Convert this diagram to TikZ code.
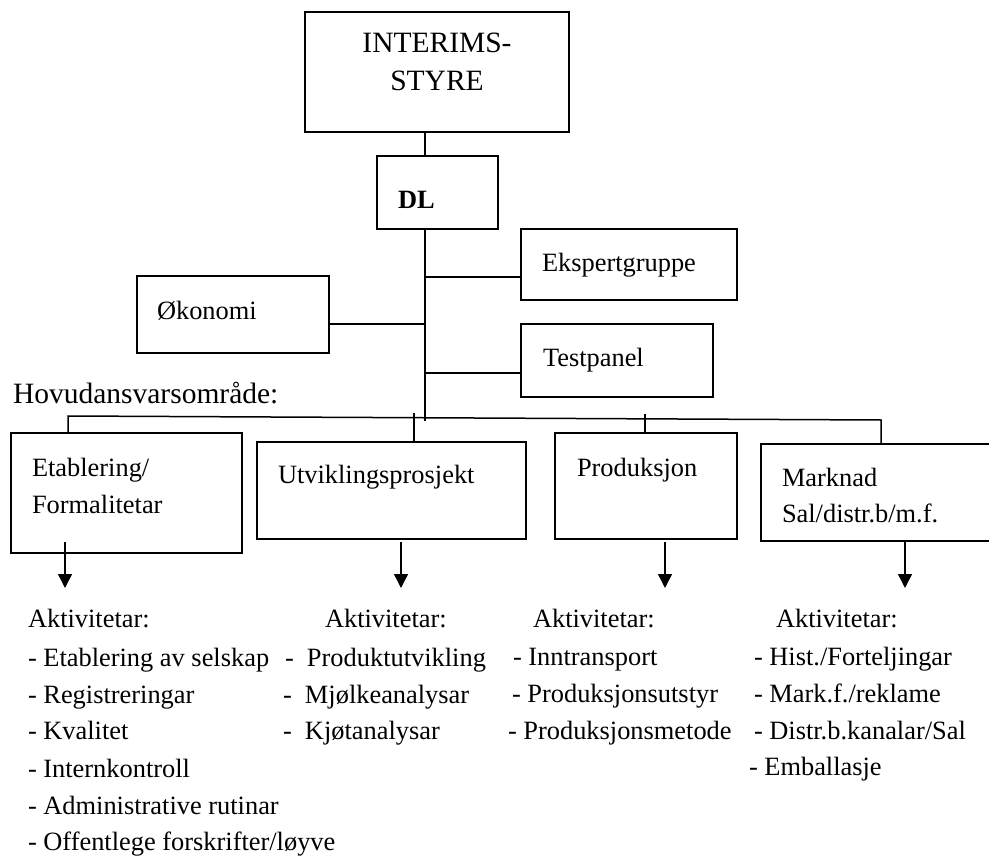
\documentclass[tikz,border=0pt]{standalone}
\usepackage{fontspec}
\setmainfont{Liberation Serif}
\usetikzlibrary{arrows.meta}
\begin{document}
\begin{tikzpicture}[x=1pt,y=-1pt,
  box/.style={draw, line width=1.6pt, inner sep=0pt, outer sep=0pt},
  txt/.style={inner sep=0pt, outer sep=0pt, anchor=base west, font=\fontsize{26.4}{30}\selectfont},
  bigtxt/.style={inner sep=0pt, outer sep=0pt, font=\fontsize{29.5}{34}\selectfont},
  conn/.style={line width=1.5pt},
  arr/.style={line width=1.5pt, -{Triangle[width=14pt,length=14pt]}}]
\useasboundingbox (0,0) rectangle (989,856);
% boxes
\node[box, minimum width=264pt, minimum height=120pt] (interim) at (437,72) {};
\node[box, minimum width=121pt, minimum height=73pt] (dl) at (437.5,192.5) {};
\node[box, minimum width=216pt, minimum height=71pt] (eksp) at (629,264.5) {};
\node[box, minimum width=192pt, minimum height=77pt] (okon) at (233,314.5) {};
\node[box, minimum width=192pt, minimum height=73pt] (test) at (617,360.5) {};
\node[box, minimum width=231pt, minimum height=120pt] (etab) at (126.5,493) {};
\node[box, minimum width=269pt, minimum height=97pt] (utv) at (391.5,490.5) {};
\node[box, minimum width=182pt, minimum height=106pt] (prod) at (646,486) {};
\node[box, minimum width=232pt, minimum height=97pt] (mark) at (877,492.5) {};
% box texts
\node[bigtxt, anchor=base] (interimA) at (437,53) {INTERIMS-};
\node[bigtxt, anchor=base] (interimB) at (437,91) {STYRE};
\node[txt] (dlT) at (398,208) {\textbf{DL}};
\node[txt] (okonT) at (157,319) {Økonomi};
\node[txt] (ekspT) at (542,271) {Ekspertgruppe};
\node[txt] (testT) at (543,366) {Testpanel};
\node[bigtxt, anchor=base west] (hovud) at (13,403) {Hovudansvarsområde:};
\node[txt] (etabA) at (32,476) {Etablering/};
\node[txt] (etabB) at (32,513) {Formalitetar};
\node[txt] (utvT) at (278,483) {Utviklingsprosjekt};
\node[txt] (prodT) at (577,476) {Produksjon};
\node[txt] (markA) at (782,486) {Marknad};
\node[txt] (markB) at (782,522) {Sal/distr.b/m.f.};
% connectors
\coordinate (spine) at (425,421);
\draw[conn] (interim.south -| spine) -- (dl.north -| spine);
\draw[conn] (dl.south -| spine) -- (spine);
\coordinate (j1) at (425,277);
\coordinate (j2) at (425,324);
\coordinate (j3) at (425,373);
\draw[conn] (j1) -- (j1 -| eksp.west);
\draw[conn] (j2) -- (j2 -| okon.east);
\draw[conn] (j3) -- (j3 -| test.west);
\coordinate (busL) at (68,416);
\coordinate (busR) at (881,420);
\draw[conn] (etab.north -| busL) -- (busL) -- (busR) -- (busR |- mark.north);
\coordinate (u1) at (414,413);
\draw[conn] (u1) -- (u1 |- utv.north);
\coordinate (p1) at (645,414);
\draw[conn] (p1) -- (p1 |- prod.north);
% arrows
\coordinate (a1s) at (65,542);  \coordinate (a1e) at (65,588);
\coordinate (a2s) at (401,542); \coordinate (a2e) at (401,588);
\coordinate (a3s) at (665,542); \coordinate (a3e) at (665,588);
\coordinate (a4s) at (905,542); \coordinate (a4e) at (905,588);
\draw[arr] (a1s) -- (a1e);
\draw[arr] (a2s) -- (a2e);
\draw[arr] (a3s) -- (a3e);
\draw[arr] (a4s) -- (a4e);
% activity lists
\node[txt] (c1h) at (28,627) {Aktivitetar:};
\node[txt] (c1a) at (28,666) {- Etablering av selskap};
\node[txt] (c1b) at (28,703) {- Registreringar};
\node[txt] (c1c) at (28,739) {- Kvalitet};
\node[txt] (c1d) at (28,777) {- Internkontroll};
\node[txt] (c1e) at (28,814) {- Administrative rutinar};
\node[txt] (c1f) at (28,850) {- Offentlege forskrifter/løyve};
\node[txt] (c2h) at (325,627) {Aktivitetar:};
\node[txt] (c2a) at (285,666) {-~ Produktutvikling};
\node[txt] (c2b) at (283,703) {-~ Mjølkeanalysar};
\node[txt] (c2c) at (283,739) {-~ Kjøtanalysar};
\node[txt] (c3h) at (533,627) {Aktivitetar:};
\node[txt] (c3a) at (513,665) {- Inntransport};
\node[txt] (c3b) at (512,702) {- Produksjonsutstyr};
\node[txt] (c3c) at (508,739) {- Produksjonsmetode};
\node[txt] (c4h) at (776,627) {Aktivitetar:};
\node[txt] (c4a) at (754,665) {- Hist./Forteljingar};
\node[txt] (c4b) at (754,702) {- Mark.f./reklame};
\node[txt] (c4c) at (754,739) {- Distr.b.kanalar/Sal};
\node[txt] (c4d) at (749,775) {- Emballasje};
\end{tikzpicture}
\end{document}
